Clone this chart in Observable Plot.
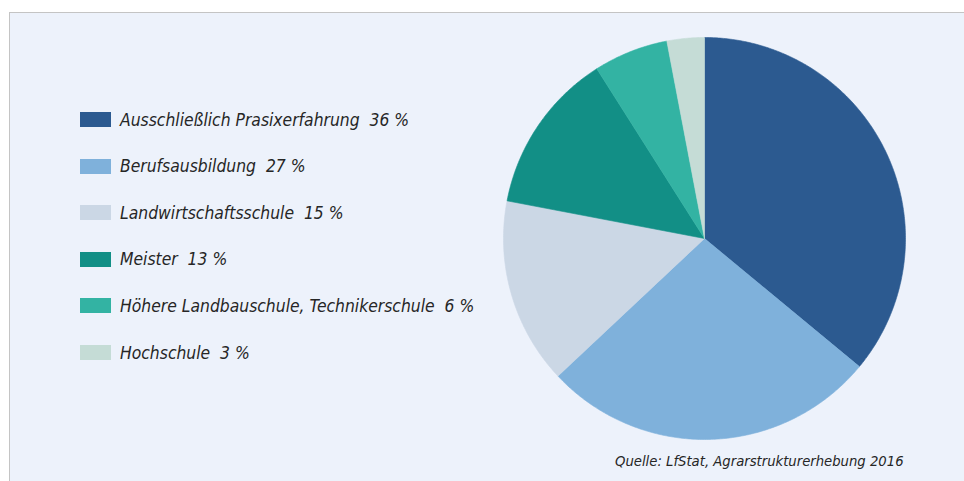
<!DOCTYPE html>
<html>
<head>
<meta charset="utf-8">
<script src="https://cdn.jsdelivr.net/npm/d3@7"></script>
<script src="https://cdn.jsdelivr.net/npm/@observablehq/plot@0.6"></script>
<style>
  html, body { margin: 0; padding: 0; background: #ffffff; }
  #wrap { position: relative; width: 964px; height: 481px; overflow: hidden; background: #ffffff; }
  #panel { position: absolute; left: 9px; top: 12px; width: 1000px; height: 500px; background: #edf2fb;
           border-top: 1px solid #c4c4c4; border-left: 1px solid #c4c4c4; }
  #chart { position: absolute; left: 0; top: 0; }
  .lg { position: absolute; left: 80px; display: flex; align-items: center; }
  .sw { width: 31px; height: 15px; margin-right: 9px; }
  .lt { font-family: "Liberation Sans Narrow", "DejaVu Sans Condensed", "Roboto", sans-serif; font-style: italic;
        font-size: 17.35px; color: #262626; white-space: pre; }
  #caption { position: absolute; left: 615px; top: 452px; font-family: "Liberation Sans Narrow", "DejaVu Sans Condensed", sans-serif;
             font-style: italic; font-size: 14.7px; color: #262626; white-space: pre; }
</style>
</head>
<body>
<div id="wrap">
  <div id="panel"></div>
  <div id="chart"></div>
  <div id="legend"></div>
  <div id="caption"></div>
</div>
<script>
const categories = ["Ausschließlich Prasixerfahrung", "Berufsausbildung", "Landwirtschaftsschule", "Meister", "Höhere Landbauschule, Technikerschule", "Hochschule"];
const shares = [36, 27, 15, 13, 6, 3];
const colors = ["#2c5a90", "#7fb1db", "#cbd7e5", "#128f86", "#33b3a3", "#c5dcd6"];
const captionText = "Quelle: LfStat, Agrarstrukturerhebung 2016";

const data = categories.map((c, i) => ({category: c, share: shares[i]}));
const arcs = d3.pie().sort(null).value(d => d.share)(data);

// polygon points for each slice in unit-circle data space
const pts = [];
arcs.forEach(a => {
  const key = a.data.category;
  pts.push({key, x: 0, y: 0});
  const n = Math.max(4, Math.ceil((a.endAngle - a.startAngle) / (Math.PI / 360)));
  for (let k = 0; k <= n; k++) {
    const t = a.startAngle + (a.endAngle - a.startAngle) * k / n;
    pts.push({key, x: Math.sin(t), y: Math.cos(t)});
  }
  pts.push({key, x: 0, y: 0});
});

const cx = 704, cy = 238, r = 201;
const plot = Plot.plot({
  width: 964,
  height: 481,
  margin: 0,
  style: {background: "transparent"},
  x: {domain: [-1, 1], range: [cx - r, cx + r], axis: null},
  y: {domain: [-1, 1], range: [cy + r, cy - r], axis: null},
  color: {domain: categories, range: colors},
  marks: [
    Plot.line(pts, {x: "x", y: "y", z: "key", fill: "key", stroke: "key", strokeWidth: 0.6, curve: "linear"})
  ]
});
document.getElementById("chart").appendChild(plot);

const legend = document.getElementById("legend");
const rowTop = 112, rowStep = 46.6;
categories.forEach((c, i) => {
  const row = document.createElement("div");
  row.className = "lg";
  row.style.top = (rowTop + i * rowStep - 4) + "px";
  row.style.height = "23px";
  const sw = document.createElement("div");
  sw.className = "sw";
  sw.style.background = colors[i];
  const t = document.createElement("span");
  t.className = "lt";
  t.textContent = c + "  " + shares[i] + " %";
  row.appendChild(sw);
  row.appendChild(t);
  legend.appendChild(row);
});
document.getElementById("caption").textContent = captionText;
</script>
</body>
</html>
